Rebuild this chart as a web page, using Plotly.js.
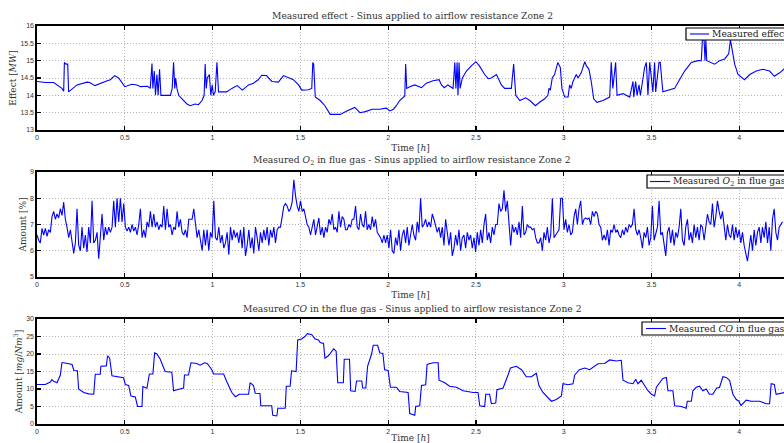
<!DOCTYPE html>
<html>
<head>
<meta charset="utf-8">
<script src="https://cdn.plot.ly/plotly-3.0.1.min.js"></script>
<style>html,body{margin:0;padding:0;background:#fff}#chart{width:784px;height:443px}</style>
</head>
<body>
<div id="chart"></div>
<script>
// ---- Measured effect [MW] ----
const effectT = [0,0.05,0.095,0.142,0.152,0.156,0.165,0.175,0.18,0.228,0.285,0.30,0.33,0.36,0.40,0.418,0.442,0.465,0.49,0.50,0.54,0.57,0.59,0.63,0.645,0.655,0.660,0.668,0.675,0.683,0.69,0.698,0.706,0.76,0.77,0.778,0.785,0.79,0.797,0.807,0.826,0.854,0.873,0.90,0.92,0.94,0.952,0.958,0.964,0.97,0.982,0.99,0.998,1.005,1.015,1.025,1.034,1.08,1.11,1.14,1.17,1.205,1.233,1.26,1.28,1.307,1.338,1.375,1.404,1.44,1.46,1.49,1.508,1.546,1.565,1.571,1.576,1.585,1.613,1.64,1.67,1.70,1.727,1.765,1.81,1.84,1.87,1.91,1.95,1.99,2.01,2.03,2.047,2.066,2.095,2.1,2.106,2.123,2.152,2.19,2.218,2.256,2.29,2.304,2.32,2.34,2.37,2.38,2.386,2.393,2.398,2.404,2.41,2.423,2.446,2.474,2.5,2.52,2.55,2.57,2.588,2.617,2.645,2.664,2.702,2.715,2.727,2.75,2.784,2.807,2.839,2.863,2.892,2.91,2.916,2.924,2.935,2.948,2.958,2.967,2.981,2.99,3.006,3.025,3.034,3.043,3.053,3.072,3.082,3.1,3.12,3.13,3.144,3.157,3.171,3.19,3.224,3.262,3.271,3.28,3.296,3.304,3.338,3.376,3.395,3.399,3.41,3.418,3.429,3.437,3.452,3.461,3.471,3.48,3.49,3.508,3.518,3.524,3.543,3.55,3.565,3.603,3.632,3.66,3.689,3.727,3.765,3.784,3.79,3.80,3.805,3.81,3.815,3.86,3.888,3.917,3.94,3.95,3.962,3.974,3.993,4.03,4.06,4.097,4.135,4.173,4.2,4.23,4.26];
const effectV = [14.4,14.37,14.37,14.2,14.12,14.95,14.9,14.9,14.1,14.3,14.38,14.37,14.28,14.35,14.42,14.45,14.57,14.5,14.3,14.25,14.32,14.3,14.25,14.26,14.2,14.92,14.2,14.7,14.0,14.6,14.0,14.75,14.0,14.0,14.2,14.95,14.2,14.5,14.2,14.0,13.9,13.75,13.7,13.75,13.73,13.85,14.0,14.9,14.2,14.5,14.6,14.0,14.3,14.0,14.1,14.95,14.1,14.1,14.2,14.28,14.15,14.3,14.35,14.45,14.58,14.57,14.4,14.38,14.57,14.5,14.45,14.3,14.15,14.16,14.2,14.95,14.9,13.95,13.85,13.7,13.45,13.45,13.45,13.55,13.65,13.5,13.53,13.6,13.6,13.63,13.55,13.6,13.7,13.85,13.98,14.9,14.2,14.25,14.3,14.22,14.35,14.42,14.45,14.3,14.22,14.3,14.2,14.95,14.2,14.95,14.0,14.95,14.2,14.5,14.7,14.85,14.97,14.85,14.6,14.48,14.5,14.6,14.3,14.2,14.2,14.9,14.0,13.85,13.93,13.85,13.7,13.8,13.9,14.0,14.2,14.15,14.5,14.6,14.8,14.95,14.8,14.2,13.95,13.95,14.3,14.2,14.4,14.6,14.5,14.65,14.97,14.85,14.75,14.4,13.9,13.8,13.85,13.95,14.95,14.2,14.95,14.0,14.05,13.95,14.4,13.95,14.4,14.0,14.3,14.0,14.5,14.8,14.95,14.0,14.95,14.1,14.95,14.1,14.95,14.95,14.1,14.15,14.2,14.45,14.7,14.95,15.0,15.0,15.6,15.6,15.0,15.6,15.0,14.9,15.0,15.05,15.2,15.6,15.3,14.9,14.6,14.45,14.6,14.7,14.75,14.7,14.55,14.65,14.78];

// ---- Measured O2 [%], sampled every O2_DT hours from O2_T0 ----
const O2_T0 = 0;
const O2_DT = 0.0095;
const o2V = [
6.6,6.4,6.3,6.85,6.6,6.85,6.55,6.8,6.7,7.3,7.5,7.2,7.4,7.25,7.6,7.35,7.85,7.2,6.9,6.5,
6.8,6.3,5.9,6.3,7.6,6.2,6.0,6.9,6.1,6.6,5.95,6.9,6.3,7.9,6.3,6.4,6.7,5.7,6.5,7.4,
6.4,6.9,6.6,6.9,6.7,6.9,7.9,6.9,8.0,7.1,8.0,7.1,7.8,6.9,6.75,6.9,6.7,7.0,6.75,6.9,
6.6,7.0,7.6,6.5,6.8,6.5,7.1,6.9,7.5,6.9,7.4,6.9,7.1,6.8,7.0,6.9,7.7,6.8,7.6,6.9,
7.0,6.6,6.9,6.8,7.5,6.9,7.2,6.7,6.6,6.8,6.5,7.2,7.2,7.2,7.6,6.9,6.5,6.8,6.3,6.0,
6.8,6.2,6.8,6.0,6.7,6.5,7.9,6.5,6.4,6.9,6.3,6.6,6.1,
6.3,6.7,5.85,6.9,6.4,6.8,6.5,6.7,6.3,6.8,6.1,6.9,5.8,6.2,6.8,6.1,6.5,5.9,6.9,6.5,
6.0,6.7,6.3,6.8,6.4,6.9,6.2,6.8,6.5,6.9,6.3,6.8,6.9,6.9,7.4,7.7,7.8,7.7,7.5,7.6,
7.85,8.7,8.1,7.7,7.5,7.9,7.5,7.6,7.3,7.0,6.9,6.6,6.9,7.2,6.6,6.9,7.25,6.6,6.9,6.5,
6.9,6.7,7.2,7.0,7.4,6.8,6.9,6.7,7.5,6.9,7.3,7.2,6.8,6.8,7.0,6.9,7.2,7.2,7.7,6.9,
6.8,7.4,7.0,6.9,7.5,6.8,7.0,6.8,7.3,6.9,7.2,6.7,6.6,6.5,6.3,6.6,6.3,6.6,6.1,6.8,
6.0,5.9,6.5,6.2,6.8,6.0,6.6,6.8,6.3,6.9,6.2,
6.7,7.0,6.6,6.4,7.1,6.7,8.0,6.9,7.0,7.2,6.9,7.1,6.9,7.4,7.2,6.9,6.7,6.9,6.5,6.9,
6.2,7.2,6.6,6.2,6.7,5.8,6.1,6.6,6.2,6.8,6.0,6.5,6.6,6.1,6.7,6.4,6.6,6.1,6.5,5.95,
6.7,6.2,6.8,6.3,7.0,7.4,6.4,6.7,6.3,6.9,6.6,7.0,7.0,7.8,7.5,7.6,8.3,7.5,7.9,7.0,
6.2,7.0,6.7,6.9,6.6,7.1,6.5,7.7,6.6,6.7,7.0,6.9,6.9,6.8,6.85,6.5,6.3,6.3,6.5,6.0,
6.7,6.4,6.9,6.3,6.6,8.0,6.5,6.6,6.7,6.8,8.0,8.0,6.8,7.2,6.7,7.0,6.6,6.7,7.3,7.6,
7.0,7.6,7.9,7.0,7.2,7.25,7.2,7.25,7.0,7.5,7.3,
7.5,7.4,7.0,6.9,6.4,6.6,6.4,6.8,6.2,6.8,6.7,7.0,6.7,6.8,6.6,6.5,6.8,6.6,6.9,6.7,
7.0,6.9,7.0,7.6,6.8,6.6,6.8,6.5,6.1,6.7,6.5,6.9,6.2,6.5,7.7,6.4,6.7,6.9,7.9,6.6,
6.7,6.3,5.8,6.7,6.9,6.3,6.8,6.2,6.7,6.5,6.9,7.6,6.4,6.2,6.9,7.2,6.4,6.7,6.3,7.0,
6.5,6.9,6.4,7.0,6.9,6.4,6.9,7.4,7.1,7.0,7.8,6.9,7.3,7.9,7.5,7.2,7.5,7.0,6.4,7.0,
6.6,6.5,7.0,6.4,6.9,6.5,6.8,6.3,6.7,6.2,5.9,5.6,6.1,6.6,6.0,6.8,6.2,6.7,6.9,6.3,
6.9,6.5,7.1,6.3,6.9,6.0,7.2,7.6,6.7,6.4,6.9,7.0,7.1];

// ---- Measured CO [mg/Nm3] ----
const coT = [0,0.047,0.076,0.085,0.095,0.114,0.133,0.142,0.152,0.17,0.2,0.21,0.23,0.237,0.266,0.294,0.323,0.332,0.36,0.364,0.395,0.402,0.414,0.427,0.465,0.493,0.503,0.522,0.535,0.56,0.573,0.598,0.603,0.626,0.64,0.66,0.67,0.683,0.702,0.73,0.768,0.778,0.797,0.825,0.835,0.84,0.863,0.877,0.91,0.93,0.954,0.97,0.983,0.996,1.006,1.063,1.082,1.11,1.13,1.153,1.205,1.214,1.233,1.243,1.27,1.275,1.337,1.343,1.366,1.372,1.414,1.42,1.442,1.45,1.476,1.485,1.507,1.526,1.54,1.565,1.584,1.603,1.613,1.632,1.64,1.66,1.69,1.704,1.713,1.745,1.75,1.78,1.787,1.812,1.82,1.85,1.855,1.873,1.883,1.906,1.915,1.94,1.953,1.97,1.98,2.0,2.013,2.047,2.066,2.095,2.114,2.123,2.152,2.157,2.18,2.19,2.214,2.222,2.256,2.285,2.29,2.323,2.35,2.389,2.427,2.484,2.512,2.522,2.55,2.556,2.578,2.588,2.613,2.62,2.655,2.683,2.697,2.73,2.76,2.787,2.816,2.844,2.859,2.882,2.91,2.93,2.958,2.987,2.996,3.025,3.053,3.063,3.09,3.12,3.148,3.157,3.196,3.233,3.262,3.3,3.328,3.338,3.366,3.395,3.41,3.423,3.442,3.461,3.48,3.5,3.518,3.528,3.565,3.585,3.594,3.622,3.632,3.67,3.698,3.704,3.727,3.736,3.755,3.774,3.793,3.812,3.83,3.85,3.87,3.888,3.907,3.926,3.945,3.964,3.983,3.998,4.01,4.04,4.068,4.097,4.116,4.154,4.173,4.182,4.2,4.21,4.24,4.26];
const coV = [11.3,11.3,12.0,12.7,12.2,11.8,14.0,17.5,17.5,17.3,17.0,15.3,15.2,10.0,9.0,8.6,8.5,14.2,14.2,16.5,16.6,19.5,18.8,13.8,13.5,13.2,11.3,11.0,8.0,7.7,5.0,5.0,10.7,10.2,14.3,14.3,20.3,20.0,18.5,15.0,14.8,9.5,9.8,10.2,10.3,14.0,14.0,17.5,17.3,16.8,17.5,17.3,16.3,15.5,14.3,14.3,12.0,9.0,7.8,8.5,8.5,11.8,11.0,8.8,8.7,5.2,5.2,2.5,2.3,4.5,4.5,10.8,10.8,15.2,15.0,24.0,24.3,25.0,25.8,25.5,24.3,24.0,23.3,23.0,18.8,19.5,21.5,20.8,11.8,11.8,18.5,18.5,9.5,9.3,12.3,12.3,10.3,10.3,16.5,20.0,22.5,22.5,20.3,20.2,15.5,15.3,10.5,10.5,9.3,9.0,9.0,3.0,2.5,5.0,5.2,11.0,11.2,17.0,17.5,17.5,12.5,11.8,10.8,10.5,9.5,9.0,9.0,5.2,5.0,8.5,8.5,5.8,6.0,9.8,10.3,14.0,16.0,16.5,15.5,13.5,13.5,14.5,11.0,9.0,7.5,6.5,7.0,8.0,11.5,11.2,11.5,14.0,15.5,16.0,15.5,15.8,17.2,17.3,18.3,18.0,18.2,12.5,11.8,11.5,12.8,11.5,12.5,11.0,9.5,8.5,8.0,10.5,13.0,13.3,9.5,9.5,5.2,5.0,4.5,6.5,6.5,9.5,10.5,10.8,9.5,10.0,8.5,8.5,10.2,10.5,13.5,13.3,12.5,8.5,7.0,6.5,5.3,6.8,6.5,6.5,6.5,5.8,5.8,11.5,11.3,8.5,8.8,9.0];

// ---- axis ticks / labels ----
const xTicks = [0,0.5,1,1.5,2,2.5,3,3.5,4];
const xTickText = ['0','0.5','1','1.5','2','2.5','3','3.5','4'];
const effectTicks = [13,13.5,14,14.5,15,15.5,16];
const o2Ticks = [5,6,7,8,9];
const coTicks = [0,5,10,15,20,25,30];
const titles = [
  'Measured effect - Sinus applied to airflow resistance Zone 2',
  'Measured <i>O</i><sub>2</sub> in flue gas - Sinus applied to airflow resistance Zone 2',
  'Measured <i>CO</i> in the flue gas - Sinus applied to airflow resistance Zone 2'
];
const legendNames = ['Measured effect','Measured <i>O</i><sub>2</sub> in flue gas','Measured <i>CO</i> in flue gas'];
const yTitles = ['Effect [<i>MW</i>]','Amount [%]','Amount [<i>mg</i>/<i>Nm</i><sup>3</sup>]'];

const W = 784, H = 443, L = 37;
const serif = '"DejaVu Serif", "Liberation Serif", serif';
const sans = '"Liberation Sans", Arial, sans-serif';
const blue = '#0000ff';

// plot areas in pixels (top, bottom)
const areas = [[26,130],[172,277],[319,424]];
const dom = a => [1 - a[1]/H, 1 - a[0]/H];
// paper coords (plot area spans L..W horizontally, whole height vertically)
const px = v => (v - L) / (W - L);
const py = v => 1 - v / H;

const o2T = o2V.map((_, i) => O2_T0 + i * O2_DT);

const traces = [
  {x: effectT, y: effectV, xaxis:'x', yaxis:'y', name: legendNames[0]},
  {x: o2T, y: o2V, xaxis:'x2', yaxis:'y2', name: legendNames[1]},
  {x: coT, y: coV, xaxis:'x3', yaxis:'y3', name: legendNames[2]}
].map(t => Object.assign(t, {type:'scatter', mode:'lines', line:{color:blue, width:1.1}, showlegend:false, hoverinfo:'skip'}));

const gridStyle = {showgrid:true, gridcolor:'#b4b4b4', griddash:'1px,2px', gridwidth:1, zeroline:false};

function xax(anchor){
  return Object.assign({
    anchor: anchor, domain:[0,1], range:[0,4.255], tickvals:xTicks, ticktext:xTickText,
    ticks:'inside', ticklen:4, tickcolor:'#000', tickwidth:1.2,
    showline:true, linecolor:'#000', linewidth:1.6, mirror:'ticks',
    tickfont:{family:sans, size:7, color:'#333'},
    title:{text:'Time [<i>h</i>]', font:{family:serif, size:9, color:'#333'}, standoff:4},
    automargin:false
  }, gridStyle);
}
function yax(anchor, d, range, ticks, title){
  return Object.assign({
    anchor: anchor, domain:d, range:range, tickvals:ticks,
    ticks:'inside', ticklen:4, tickcolor:'#000', tickwidth:1.2,
    showline:true, linecolor:'#000', linewidth:1.6, mirror:false,
    tickfont:{family:sans, size:7, color:'#333'},
    title:{text:title, font:{family:serif, size:9, color:'#333'}, standoff:2},
    automargin:false
  }, gridStyle);
}

const legendBoxes = [
  {left:686, top:28, bottom:40, lx0:690, lx1:709, tx:710},
  {left:647, top:175, bottom:188, lx0:650, lx1:670, tx:671},
  {left:642, top:322, bottom:335, lx0:646, lx1:666, tx:667}
];

const shapes = [];
const annotations = [];
areas.forEach((a, i) => {
  annotations.push({text: titles[i], xref:'paper', yref:'paper', x: px(412), y: py(a[0]-3),
    xanchor:'center', yanchor:'bottom', showarrow:false, font:{family:serif, size:9.2, color:'#333'}});
  const b = legendBoxes[i];
  const mid = (b.top + b.bottom) / 2;
  shapes.push({type:'rect', xref:'paper', yref:'paper', x0: px(b.left), x1: px(b.left + 170), y0: py(b.bottom), y1: py(b.top),
    line:{color:'#000', width:1.2}, fillcolor:'#fff', layer:'above'});
  shapes.push({type:'line', xref:'paper', yref:'paper', x0: px(b.lx0), x1: px(b.lx1), y0: py(mid), y1: py(mid),
    line:{color:blue, width:1.1}, layer:'above'});
  annotations.push({text: legendNames[i], xref:'paper', yref:'paper', x: px(b.tx), y: py(mid),
    xanchor:'left', yanchor:'middle', showarrow:false, font:{family:serif, size:9.2, color:'#222'}});
});

const layout = {
  width:W, height:H,
  margin:{l:L, r:0, t:0, b:0, pad:0},
  paper_bgcolor:'#fff', plot_bgcolor:'#fff',
  showlegend:false,
  xaxis: xax('y'), xaxis2: xax('y2'), xaxis3: xax('y3'),
  yaxis: yax('x', dom(areas[0]), [13,16], effectTicks, yTitles[0]),
  yaxis2: yax('x2', dom(areas[1]), [5,9], o2Ticks, yTitles[1]),
  yaxis3: yax('x3', dom(areas[2]), [0,30], coTicks, yTitles[2]),
  shapes: shapes,
  annotations: annotations
};

Plotly.newPlot('chart', traces, layout, {staticPlot:true, displayModeBar:false});
</script>
</body>
</html>
